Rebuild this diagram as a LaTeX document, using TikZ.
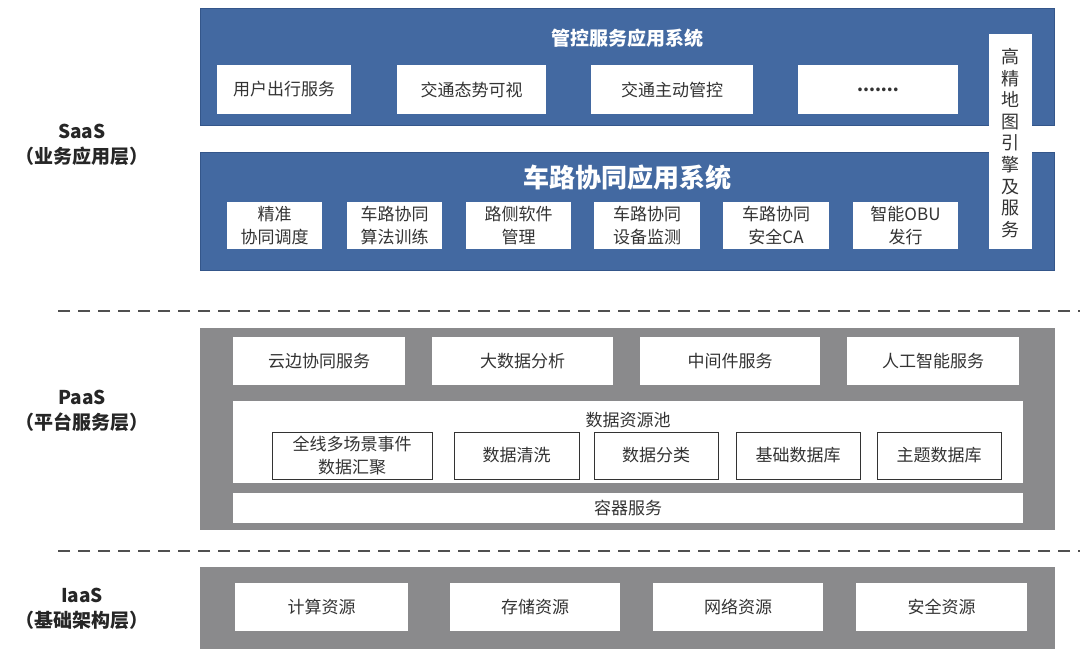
\documentclass[tikz,border=0pt]{standalone}
\usepackage{fontspec}
\setmainfont{Noto Sans CJK SC}
\definecolor{blu}{HTML}{4369A1}
\definecolor{blud}{HTML}{34568A}
\definecolor{gry}{HTML}{8A8A8C}
\definecolor{txt}{HTML}{333333}
\definecolor{dsh}{HTML}{505050}
\newcommand\bx[7]{\node[#6, minimum width={(#4-#2)*1pt}, minimum height={(#5-#3)*1pt}] (#1) at ({(#2+#4)/2},{(#3+#5)/2}) {#7};}
\tikzset{
  base/.style={rectangle, inner sep=0pt, outer sep=0pt, align=center},
  bluebox/.style={base, fill=blu, draw=blud, line width=1pt},
  graybox/.style={base, fill=gry},
  wbox/.style={base, fill=white, text=txt, font=\fontsize{17}{23}\selectfont},
  obox/.style={wbox, draw=txt, line width=1pt},
  ttl/.style={text=white, font=\bfseries\fontsize{19}{23}\selectfont, inner sep=0pt},
  bigttl/.style={text=white, font=\bfseries\fontsize{26}{30}\selectfont, inner sep=0pt},
  plain/.style={text=txt, font=\fontsize{17}{23}\selectfont, inner sep=0pt},
  layer/.style={text=black!85, font=\bfseries\fontsize{19}{25}\selectfont, align=center, inner sep=0pt},
  sep/.style={dsh, line width=1.5pt, dash pattern=on 12pt off 8pt}
}
\begin{document}
\begin{tikzpicture}[x=1pt, y=-1pt]
\useasboundingbox (0,0) rectangle (1080,659);
% ---------- SaaS ----------
\bx{ctrl}{200}{8}{1054}{125}{bluebox}{}
\node[ttl] (ctrlt) at (627,38) {管控服务应用系统};
\bx{c1}{217}{65}{351}{114}{wbox}{用户出行服务}
\bx{c2}{397}{65}{546}{114}{wbox}{交通态势可视}
\bx{c3}{591}{65}{753}{114}{wbox}{交通主动管控}
\bx{c4}{798}{65}{958}{114}{wbox}{\textbf{.......}}
\bx{v2x}{200}{152}{1054}{270}{bluebox}{}
\node[bigttl] (v2xt) at (627,178) {车路协同应用系统};
\bx{v1}{227}{202}{322}{249}{wbox}{精准\\协同调度}
\bx{v2}{347}{202}{442}{249}{wbox}{车路协同\\算法训练}
\bx{v3}{466}{202}{571}{249}{wbox}{路侧软件\\管理}
\bx{v4}{594}{202}{700}{249}{wbox}{车路协同\\设备监测}
\bx{v5}{723}{202}{829}{249}{wbox}{车路协同\\安全CA}
\bx{v6}{853}{202}{958}{249}{wbox}{智能OBU\\发行}
\bx{hd}{989}{34}{1032}{249}{wbox}{}
\node[text=txt, font=\fontsize{18}{21.6}\selectfont, align=center, inner sep=0pt] (hdt) at (1010.5,143) {高\\精\\地\\图\\引\\擎\\及\\服\\务};
\node[layer] (saas) at (82,145) {SaaS\\（业务应用层）};
% ---------- separators ----------
\coordinate (s1a) at (58,311); \coordinate (s1b) at (1080,311);
\coordinate (s2a) at (58,551); \coordinate (s2b) at (1080,551);
\draw[sep] (s1a) -- (s1b);
\draw[sep] (s2a) -- (s2b);
% ---------- PaaS ----------
\bx{paas}{200}{328}{1055}{530}{graybox}{}
\bx{p1}{233}{337}{405}{385}{wbox}{云边协同服务}
\bx{p2}{432}{337}{613}{385}{wbox}{大数据分析}
\bx{p3}{640}{337}{820}{385}{wbox}{中间件服务}
\bx{p4}{847}{337}{1019}{385}{wbox}{人工智能服务}
\bx{pool}{233}{401}{1023}{483}{wbox}{}
\node[plain] (poolt) at (628,420) {数据资源池};
\bx{d1}{272}{432}{432}{479}{obox}{全线多场景事件\\数据汇聚}
\bx{d2}{454}{432}{579}{479}{obox}{数据清洗}
\bx{d3}{594}{432}{718}{479}{obox}{数据分类}
\bx{d4}{736}{432}{860}{479}{obox}{基础数据库}
\bx{d5}{877}{432}{1001}{479}{obox}{主题数据库}
\bx{cont}{233}{493}{1023}{523}{wbox}{容器服务}
\node[layer] (paasl) at (82,411) {PaaS\\（平台服务层）};
% ---------- IaaS ----------
\bx{iaas}{200}{567}{1055}{649}{graybox}{}
\bx{i1}{235}{583}{408}{631}{wbox}{计算资源}
\bx{i2}{450}{583}{620}{631}{wbox}{存储资源}
\bx{i3}{653}{583}{823}{631}{wbox}{网络资源}
\bx{i4}{856}{583}{1027}{631}{wbox}{安全资源}
\node[layer] (iaasl) at (82,609) {IaaS\\（基础架构层）};
\end{tikzpicture}
\end{document}
